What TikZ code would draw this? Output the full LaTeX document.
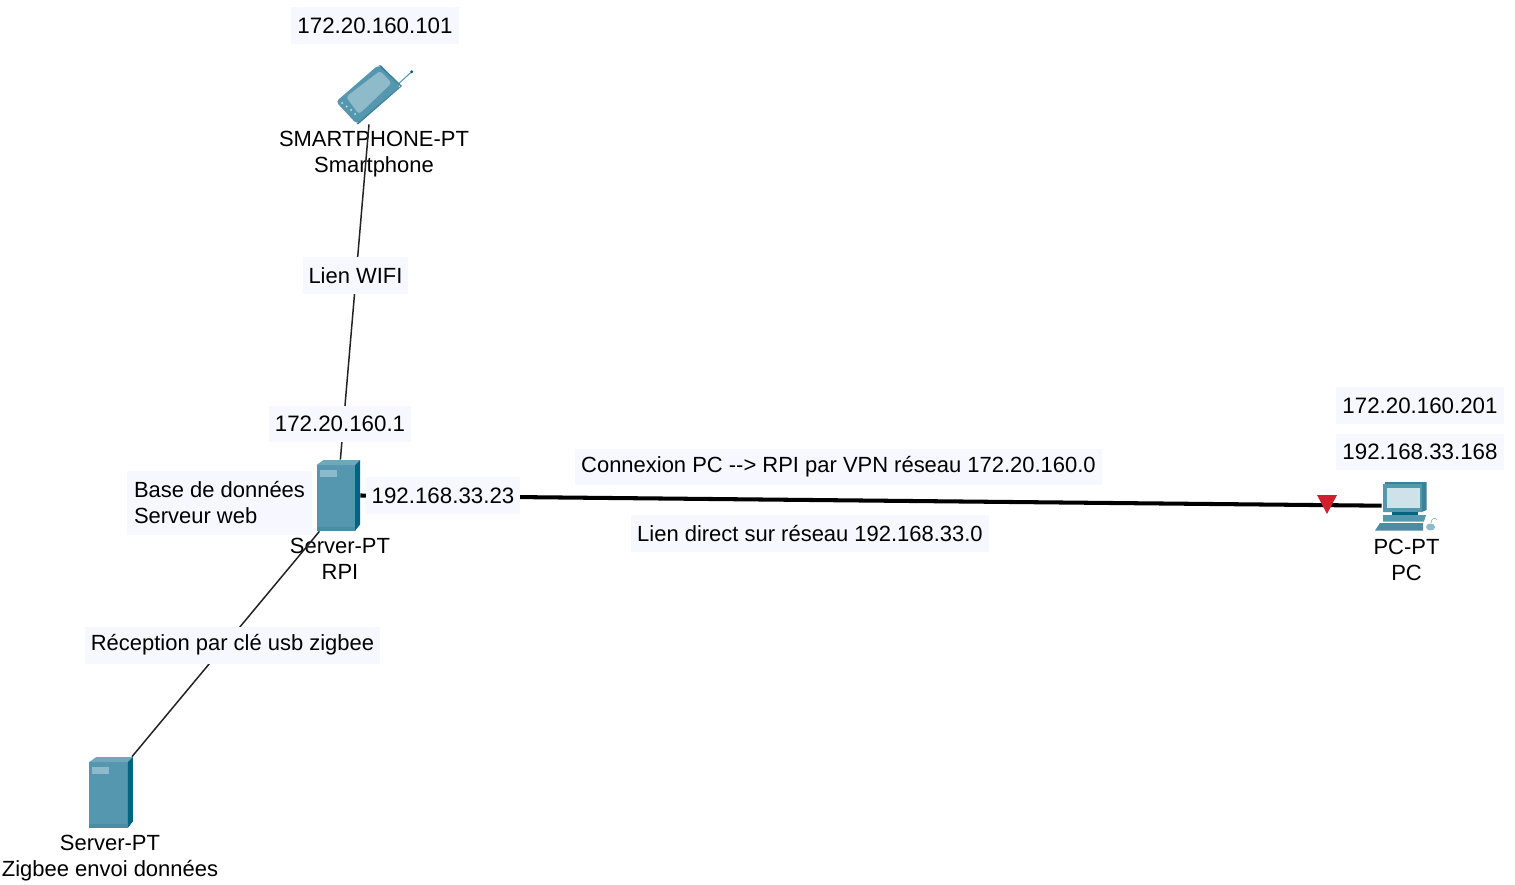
\documentclass[tikz,border=0pt]{standalone}
\usepackage{fontspec}
\setmainfont{Liberation Sans}

\tikzset{
    devicetext/.style={align=center, inner sep=0pt, font=\fontsize{12.5}{14.8}\selectfont},
    labelbox/.style={fill=box_bg, inner xsep=0.12cm, inner ysep=0pt, minimum height=0.74cm, align=left, font=\fontsize{12.5}{14.8}\selectfont},
    ipbox/.style={labelbox, font=\fontsize{12.7}{14.8}\selectfont},
    servernode/.style={inner sep=0pt, minimum width=0.86cm, minimum height=1.42cm},
    wifilink/.style={line width=0.85pt, draw=link_grey},
    directlink/.style={line width=2.3pt, draw=black},
    servericon/.pic={
        \path[fill=pt_front] (-22,-30.5) rectangle (16.5,35.5);
        \path[fill=pt_top] (-22,-30.5) -- (-15,-35.5) -- (21.5,-35.5) -- (16.5,-30.5) -- cycle;
        \path[fill=pt_side] (16.5,-30.5) -- (21.5,-35.5) -- (21.5,29) -- (16.5,35.5) -- cycle;
        \path[fill=pt_slot] (-19,-25.5) rectangle (-2,-19);
        \path[fill=pt_strip] (-22,31) rectangle (16.5,35.5);
    }
}

\begin{document}
\begin{tikzpicture}[x=0.02cm, y=-0.02cm]
    \definecolor{pt_front}{HTML}{5597AE}
    \definecolor{pt_top}{HTML}{6FA8BA}
    \definecolor{pt_side}{HTML}{01657F}
    \definecolor{pt_shade}{HTML}{3A8199}
    \definecolor{pt_slot}{HTML}{8DBACA}
    \definecolor{pt_strip}{HTML}{4C8CA3}
    \definecolor{pt_screen}{HTML}{CFE2EA}
    \definecolor{pt_phone}{HTML}{8FBACA}
    \definecolor{box_bg}{HTML}{F7F8FF}
    \definecolor{link_grey}{HTML}{222222}
    \definecolor{tri_red}{HTML}{D0202E}
    \useasboundingbox (0,0) rectangle (1515,885);

    % devices
    \node[inner sep=0pt, minimum width=1.2cm, minimum height=1.16cm] (phone) at (369,95) {};
    \node[servernode] (rpi) at (338.5,495.5) {};
    \node[servernode] (zigbee) at (111.3,792.5) {};
    \node[inner sep=0pt, minimum width=0.96cm, minimum height=1cm] (pc) at (1406,505.7) {};

    \node[devicetext] (phonetext) at (374,154) {SMARTPHONE-PT\\Smartphone};
    \node[devicetext] (rpitext) at (340,558.5) {Server-PT\\RPI};
    \node[devicetext] (zigbeetext) at (110,858) {Server-PT\\Zigbee envoi données};
    \node[devicetext] (pctext) at (1406.5,560) {PC-PT\\PC};

    % links
    \draw[wifilink] (phone.south) -- (rpi.87);
    \draw[wifilink] (rpi.242) -- (zigbee.60);
    \draw[directlink] (rpi.east) -- (pc.west);
    \path[fill=tri_red] (1317,495) -- (1337,495) -- (1327,514) -- cycle;

    % icons
    \pic at (rpi.center) {servericon};
    \pic at (zigbee.center) {servericon};

    \draw[line width=0.6pt, draw=pt_front] (398.3,84) -- (411.7,71.7);
    \path[fill=pt_side] (411.7,71.7) circle (1.6);
    \path[fill=pt_front, rounded corners=2pt] (336,101.7) -- (378.3,65) -- (401,86) -- (356.7,124) -- cycle;
    \path[fill=pt_shade] (356.7,123.5) -- (400.5,86.2) -- (378.5,65.5) -- (381,65.5) -- (402,86) -- (358,124.5) -- cycle;
    \path[fill=pt_phone, draw=pt_slot, line width=0.6pt, rounded corners=1.5pt] (346.7,97) -- (380,71.5) -- (391,83) -- (359,113.5) -- cycle;
    \foreach \bx/\by in {342/103, 346.5/106.5, 351/110, 355/114}
        \path[fill=pt_screen] (\bx,\by) circle (1);

    \path[fill=pt_shade] (1385,482) -- (1426.7,482) -- (1426.7,510) -- (1421.7,512) -- (1383,512) -- cycle;
    \path[fill=pt_front] (1382.7,484) rectangle (1421.7,512);
    \path[fill=pt_screen] (1386.7,488) rectangle (1420,508);
    \path[fill=pt_side] (1392,512) rectangle (1418,515);
    \path[fill=pt_front] (1383,515) -- (1426,515) -- (1424,521.5) -- (1383,521.5) -- cycle;
    \path[fill=pt_strip] (1380,523) -- (1423,523) -- (1423,530.5) -- (1375,530.5) -- cycle;
    \path[fill=pt_slot] (1430.5,527) ellipse (4.5 and 3.5);
    \draw[line width=0.4pt, draw=pt_slot] (1431,523) .. controls (1431,518) and (1436,517) .. (1437,520);

    % labels
    \node[ipbox] (phoneip) at (375,25.5) {172.20.160.101};
    \node[labelbox] (wifitext) at (355.5,275.5) {Lien WIFI};
    \node[ipbox] (rpiwifiip) at (340,424) {172.20.160.1};
    \node[labelbox, minimum height=1.28cm, minimum width=3.7cm] (roletext) at (219.5,503) {Base de données\\Serveur web};
    \node[ipbox] (rpilanip) at (443,495.5) {192.168.33.23};
    \node[labelbox] (vpntext) at (838.5,467) {Connexion PC -{}-{}> RPI par VPN réseau 172.20.160.0};
    \node[labelbox] (lantext) at (810,533.5) {Lien direct sur réseau 192.168.33.0};
    \node[labelbox] (usbtext) at (232.5,645) {Réception par clé usb zigbee};
    \node[ipbox] (pcvpnip) at (1420,405.5) {172.20.160.201};
    \node[ipbox] (pclanip) at (1420,452) {192.168.33.168};
\end{tikzpicture}
\end{document}
